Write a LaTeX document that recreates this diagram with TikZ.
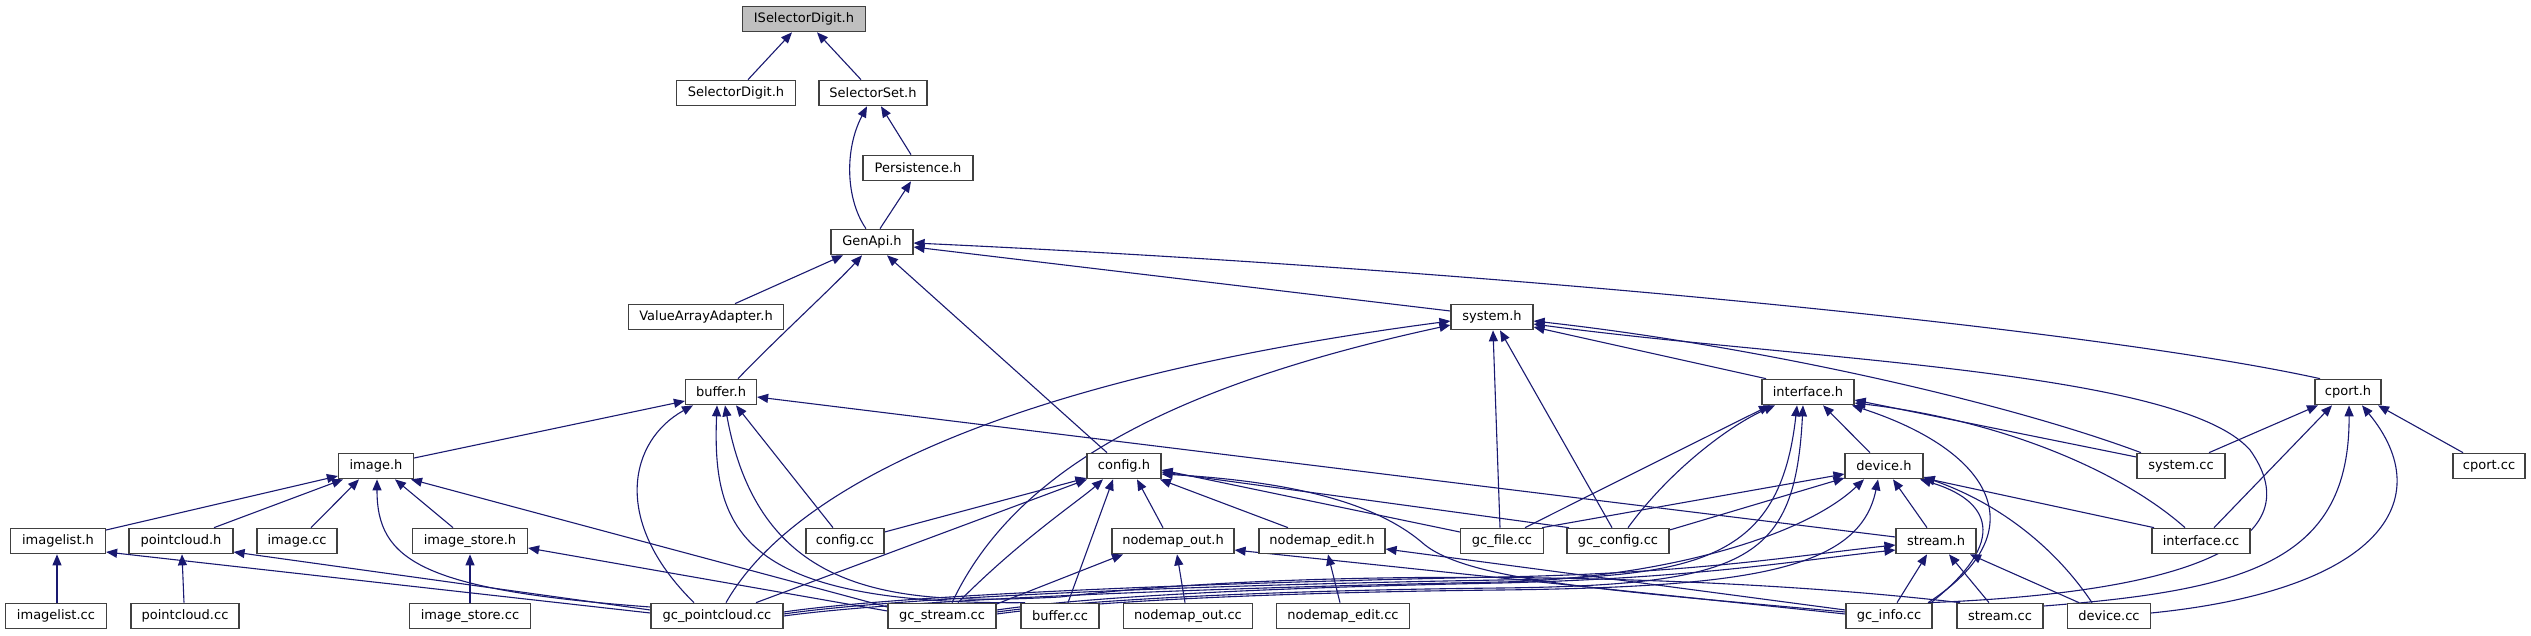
\documentclass[tikz,border=0pt]{standalone}
\usepackage{fontspec}
\setmainfont{DejaVu Sans}
\usetikzlibrary{arrows.meta}
\definecolor{edgec}{HTML}{191970}
\definecolor{bordc}{HTML}{404040}
\definecolor{rootc}{HTML}{BFBFBF}
\pgfdeclarelayer{edgelayer}
\pgfsetlayers{edgelayer,main}
\begin{document}
\begin{tikzpicture}[x=1pt,y=-1pt,
  box/.style={draw=bordc,line width=1.2pt,fill=white,minimum height=25.5pt,inner sep=0pt,
    font=\fontsize{13}{15}\selectfont},
  e/.style={draw=edgec,line width=1.1pt,-{Triangle[length=11pt,width=9pt]}}]
\useasboundingbox (0,0) rectangle (2531,635);
% nodes
\node[box,fill=rootc,minimum width=123pt] (isd) at (804,19) {ISelectorDigit.h};
\node[box,minimum width=119pt] (sdig) at (736,93) {SelectorDigit.h};
\node[box,minimum width=108pt] (sset) at (873,93) {SelectorSet.h};
\node[box,minimum width=110pt] (pers) at (918,168) {Persistence.h};
\node[box,minimum width=82pt] (genapi) at (872,242) {GenApi.h};
\node[box,minimum width=155pt] (vaa) at (706,317) {ValueArrayAdapter.h};
\node[box,minimum width=82pt] (sysh) at (1492,317) {system.h};
\node[box,minimum width=71pt] (bufh) at (721,392) {buffer.h};
\node[box,minimum width=92pt] (intf) at (1808,392) {interface.h};
\node[box,minimum width=66pt] (cporth) at (2348,392) {cport.h};
\node[box,minimum width=75pt] (imageh) at (376,466) {image.h};
\node[box,minimum width=74pt] (configh) at (1124,466) {config.h};
\node[box,minimum width=78pt] (deviceh) at (1884,466) {device.h};
\node[box,minimum width=88pt] (syscc) at (2181,466) {system.cc};
\node[box,minimum width=72pt] (cportcc) at (2489,466) {cport.cc};
\node[box,minimum width=95pt] (imagelisth) at (58,541) {imagelist.h};
\node[box,minimum width=104pt] (pointcloudh) at (181,541) {pointcloud.h};
\node[box,minimum width=80pt] (imagecc) at (297,541) {image.cc};
\node[box,minimum width=115pt] (imagestoreh) at (470,541) {image\_store.h};
\node[box,minimum width=78pt] (configcc) at (845,541) {config.cc};
\node[box,minimum width=122pt] (nodemapouth) at (1173,541) {nodemap\_out.h};
\node[box,minimum width=126pt] (nodemapedith) at (1322,541) {nodemap\_edit.h};
\node[box,minimum width=83pt] (gcfile) at (1502,541) {gc\_file.cc};
\node[box,minimum width=102pt] (gcconfig) at (1618,541) {gc\_config.cc};
\node[box,minimum width=80pt] (streamh) at (1936,541) {stream.h};
\node[box,minimum width=98pt] (intfcc) at (2201,541) {interface.cc};
\node[box,minimum width=101pt] (imagelistcc) at (56,616) {imagelist.cc};
\node[box,minimum width=108pt] (pointcloudcc) at (185,616) {pointcloud.cc};
\node[box,minimum width=121pt] (imagestorecc) at (470,616) {image\_store.cc};
\node[box,minimum width=132pt] (gcpc) at (717,616) {gc\_pointcloud.cc};
\node[box,minimum width=108pt] (gcstream) at (942,616) {gc\_stream.cc};
\node[box,minimum width=78pt] (buffercc) at (1060,616) {buffer.cc};
\node[box,minimum width=129pt] (nodemapoutcc) at (1188,616) {nodemap\_out.cc};
\node[box,minimum width=133pt] (nodemapeditcc) at (1343,616) {nodemap\_edit.cc};
\node[box,minimum width=86pt] (gcinfo) at (1889,616) {gc\_info.cc};
\node[box,minimum width=86pt] (streamcc) at (2000,616) {stream.cc};
\node[box,minimum width=83pt] (devicecc) at (2109,616) {device.cc};
\begin{pgfonlayer}{edgelayer}
% ISelectorDigit / SelectorSet / Persistence / GenApi
\draw[e] ([xshift=12]sdig.north) -- ([xshift=-12]isd.south);
\draw[e] ([xshift=-12]sset.north) -- ([xshift=13]isd.south);
\draw[e] ([xshift=-7]pers.north) -- ([xshift=8]sset.south);
\draw[e] ([xshift=-6]genapi.north) .. controls (846,200) and (844,150) .. ([xshift=-6]sset.south);
\draw[e] ([xshift=8]genapi.north) -- ([xshift=-7]pers.south);
\draw[e] ([xshift=29]vaa.north) -- ([xshift=-29]genapi.south);
\draw[e] ([xshift=17]bufh.north) .. controls (775,340) and (835,285) .. ([xshift=-10]genapi.south);
\draw[e] ([xshift=-17]configh.north) -- ([xshift=15]genapi.south);
\draw[e] ([yshift=6]sysh.west) -- ([yshift=-5]genapi.east);
\draw[e] ([xshift=-28]cporth.north) .. controls (2100,330) and (1500,270) .. ([yshift=-1]genapi.east);
% system.h
\draw[e] ([xshift=9]gcpc.north) .. controls (790,490) and (1000,380) .. ([yshift=-4]sysh.west);
\draw[e] ([xshift=10]gcstream.north) .. controls (1010,480) and (1150,390) .. ([yshift=-8]sysh.west);
\draw[e] ([xshift=-42]intf.north) -- ([yshift=-10]sysh.east);
\draw[e] ([xshift=-40]syscc.north) .. controls (2000,400) and (1750,345) .. ([yshift=-4]sysh.east);
\draw[e] ([xshift=40]gcinfo.north) .. controls (2250,590) and (2300,520) .. (2250,450)
   .. controls (2180,370) and (1800,360) .. ([yshift=-7]sysh.east);
\draw[e] ([xshift=-2]gcfile.north) -- ([xshift=1]sysh.south);
\draw[e] ([xshift=-6]gcconfig.north) -- ([xshift=8]sysh.south);
% buffer.h
\draw[e] ([yshift=8]imageh.east) -- ([yshift=-9]bufh.west);
\draw[e] ([xshift=-23]gcpc.north) .. controls (610,520) and (630,440) .. ([xshift=-28]bufh.south);
\draw[e] ([xshift=-35]buffercc.north) .. controls (740,605) and (712,530) .. ([xshift=-4]bufh.south);
\draw[e] ([xshift=-40]streamcc.north) .. controls (1700,572) and (1300,568) .. (1060,597)
   .. controls (900,605) and (760,600) .. ([xshift=4]bufh.south);
\draw[e] ([xshift=-12]configcc.north) -- ([xshift=15]bufh.south);
\draw[e] ([yshift=4]streamh.west) -- ([yshift=-5]bufh.east);
% cport.h
\draw[e] ([xshift=28]syscc.north) -- ([xshift=-30]cporth.south);
\draw[e] ([xshift=13]intfcc.north) -- ([xshift=-16]cporth.south);
\draw[e] ([xshift=-26]cportcc.north) -- ([xshift=30]cporth.south);
\draw[e] ([yshift=3]devicecc.east) .. controls (2380,590) and (2440,500) .. ([xshift=14]cporth.south);
\draw[e] ([yshift=10]streamcc.east) .. controls (2250,590) and (2350,560) .. ([xshift=1]cporth.south);
% interface.h
\draw[e] ([xshift=23]gcfile.north) .. controls (1620,480) and (1720,430) .. ([xshift=-38]intf.south);
\draw[e] ([xshift=10]gcconfig.north) .. controls (1670,470) and (1730,425) .. ([xshift=-33]intf.south);
\draw[e] ([xshift=-14]deviceh.north) -- ([xshift=15]intf.south);
\draw[e] ([yshift=9]syscc.west) -- ([yshift=-8]intf.east);
\draw[e] ([xshift=-16]intfcc.north) .. controls (2120,470) and (2000,420) .. ([yshift=-11]intf.east);
\draw[e] ([xshift=39]gcinfo.north) .. controls (2040,530) and (1990,450) .. ([xshift=44]intf.south);
\draw[e] ([yshift=2]gcpc.east) .. controls (900,597) and (1200,585) .. (1500,580)
   .. controls (1700,577) and (1780,560) .. ([xshift=-11]intf.south);
\draw[e] ([yshift=4]gcstream.east) .. controls (1100,598) and (1300,590) .. (1500,588)
   .. controls (1750,585) and (1795,560) .. ([xshift=-5]intf.south);
% device.h
\draw[e] ([xshift=40]gcfile.north) -- ([yshift=-8]deviceh.west);
\draw[e] ([yshift=11]gcconfig.east) -- ([yshift=-12]deviceh.west);
\draw[e] ([xshift=-47]intfcc.north) -- ([yshift=-12]deviceh.east);
\draw[e] ([xshift=-9]streamh.north) -- ([xshift=9]deviceh.south);
\draw[e] ([xshift=42]gcinfo.north) .. controls (2010,540) and (1990,500) .. ([xshift=36]deviceh.south);
\draw[e] ([xshift=-17]devicecc.north) .. controls (2050,540) and (1990,500) .. ([yshift=-11]deviceh.east);
\draw[e] (gcpc.east) .. controls (900,600) and (1200,588) .. (1500,582)
   .. controls (1650,579) and (1800,540) .. ([xshift=-20]deviceh.south);
\draw[e] ([yshift=2]gcstream.east) .. controls (1100,600) and (1300,592) .. (1500,590)
   .. controls (1750,587) and (1860,570) .. ([xshift=-6]deviceh.south);
% stream.h
\draw[e] ([xshift=8]gcinfo.north) -- ([xshift=-9]streamh.south);
\draw[e] ([xshift=-11]streamcc.north) -- ([xshift=13]streamh.south);
\draw[e] ([xshift=-30]devicecc.north) -- ([xshift=34]streamh.south);
\draw[e] ([yshift=4]gcpc.east) .. controls (900,595) and (1200,583) .. (1500,577)
   .. controls (1700,573) and (1800,555) .. ([yshift=-4]streamh.west);
\draw[e] ([yshift=6]gcstream.east) .. controls (1100,595) and (1300,587) .. (1500,583)
   .. controls (1700,578) and (1800,560) .. ([yshift=-9]streamh.west);
% config.h
\draw[e] ([yshift=9]configcc.east) -- ([yshift=-12]configh.west);
\draw[e] ([xshift=39]gcpc.north) -- ([xshift=-37]configh.south);
\draw[e] ([xshift=16]gcstream.north) .. controls (1020,540) and (1080,500) .. ([xshift=-21]configh.south);
\draw[e] ([xshift=8]buffercc.north) -- ([xshift=-11]configh.south);
\draw[e] ([xshift=-10]nodemapouth.north) -- ([xshift=13]configh.south);
\draw[e] ([xshift=-34]nodemapedith.north) -- ([xshift=36]configh.south);
\draw[e] ([yshift=9]gcfile.west) -- ([yshift=-4]configh.east);
\draw[e] ([xshift=-49]gcconfig.north) -- ([yshift=-6]configh.east);
\draw[e] ([yshift=4]gcinfo.west) .. controls (1600,590) and (1470,580) .. (1425,545)
   .. controls (1380,505) and (1300,482) .. ([yshift=-8]configh.east);
% nodemap_out.h / nodemap_edit.h
\draw[e] ([xshift=-3]nodemapoutcc.north) -- ([xshift=4]nodemapouth.south);
\draw[e] ([yshift=12]gcstream.east) -- ([xshift=-50]nodemapouth.south);
\draw[e] ([yshift=2]gcinfo.west) -- ([yshift=-9]nodemapouth.east);
\draw[e] ([xshift=-3]nodemapeditcc.north) -- ([xshift=6]nodemapedith.south);
\draw[e] ([yshift=6]gcinfo.west) -- ([yshift=-8]nodemapedith.east);
% image.h and friends
\draw[e] ([yshift=11]imagelisth.east) -- ([yshift=-10]imageh.west);
\draw[e] ([xshift=33]pointcloudh.north) -- ([xshift=-33]imageh.south);
\draw[e] ([xshift=14]imagecc.north) -- ([xshift=-17]imageh.south);
\draw[e] ([xshift=-17]imagestoreh.north) -- ([xshift=19]imageh.south);
\draw[e] ([yshift=9]gcpc.west) .. controls (420,590) and (377,560) .. ([xshift=1]imageh.south);
\draw[e] ([yshift=9]gcstream.west) -- ([xshift=35]imageh.south);
\draw[e] ([yshift=5]gcstream.west) -- ([yshift=-7]imagestoreh.east);
\draw[e] (imagestorecc.north) -- (imagestoreh.south);
\draw[e] ([yshift=3]gcpc.west) -- ([yshift=-11]imagelisth.east);
\draw[e] ([yshift=6]gcpc.west) -- ([yshift=-11]pointcloudh.east);
\draw[e] ([xshift=1]imagelistcc.north) -- ([xshift=-1]imagelisth.south);
\draw[e] ([xshift=-1]pointcloudcc.north) -- ([xshift=1]pointcloudh.south);
\end{pgfonlayer}
\end{tikzpicture}
\end{document}
